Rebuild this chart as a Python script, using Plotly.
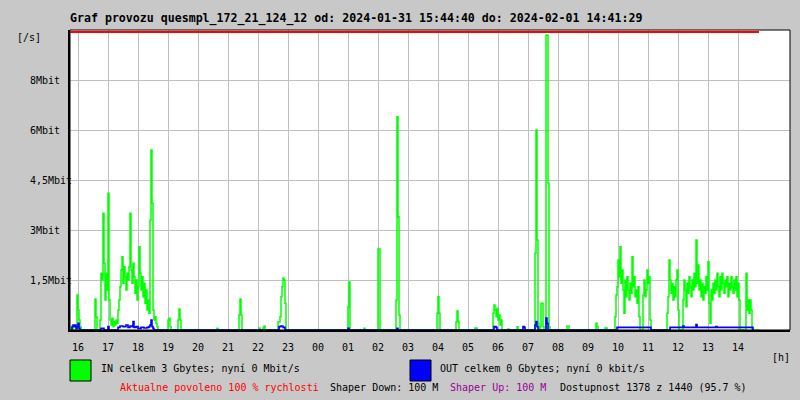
import plotly.graph_objects as go

# ---------------- data (minutes after 16:00, Mbit/s) ----------------
in_minutes = [
    -16, -12, -10, -4, -2, 0, 2, 4, 6,
    32, 34, 36, 38,
    42, 44, 46, 48, 50, 52, 54, 56, 58, 60, 62, 64, 66, 68, 70, 72, 74, 76, 78, 80,
    82, 84, 86, 88, 90, 92, 94, 96, 98, 100, 102, 104, 106, 108, 110, 112, 114, 116,
    118, 120, 122, 124, 126, 128, 130, 132, 134, 136, 138, 140, 142, 144, 146, 148,
    150, 152, 154, 156, 158, 160,
    178, 180, 182, 184, 186,
    198, 200, 202, 204, 206,
    276, 278, 280,
    320, 322, 324, 326, 328,
    360, 362, 364, 368, 370, 372, 374,
    398, 400, 402, 404, 406, 408, 410, 412, 414, 416,
    538, 540, 542, 544,
    570, 572, 574,
    598, 600, 602, 604,
    634, 636, 638, 640, 642, 644,
    716, 718, 720, 722, 724,
    754, 756, 758, 760, 762,
    792, 794, 796, 798,
    828, 830, 832, 834, 836, 838, 840, 842, 844, 846, 848,
    858, 860, 862,
    876, 878, 880,
    912, 914, 916, 918, 920, 922, 924, 926, 928, 930, 932, 934, 936, 938, 940, 942, 944,
    976, 978, 980, 982,
    1034, 1036, 1038, 1040,
    1052, 1054, 1056, 1058,
    1072, 1074, 1076, 1078, 1080, 1082, 1084, 1086, 1088, 1090, 1092, 1094, 1096, 1098,
    1100, 1102, 1104, 1106, 1108, 1110, 1112, 1114, 1116, 1118, 1120, 1122, 1124,
    1128, 1130, 1132, 1134, 1136, 1138, 1140, 1142, 1144, 1146,
    1176, 1178, 1180, 1182, 1184, 1186, 1188, 1190, 1192, 1194, 1196, 1198, 1200, 1202,
    1208, 1210, 1212, 1214, 1216, 1218, 1220, 1222, 1224, 1226, 1228, 1230, 1232, 1234,
    1236, 1238, 1240, 1242, 1244, 1246, 1248, 1250, 1252, 1254, 1256, 1258, 1260, 1262,
    1264, 1266, 1268, 1270, 1272, 1274, 1276, 1278, 1280, 1282, 1284, 1286, 1288, 1290,
    1292, 1294, 1296, 1298, 1300, 1302, 1304, 1306, 1308, 1310, 1312, 1314, 1316, 1318,
    1320, 1322, 1324,
    1334, 1336, 1338, 1340, 1342, 1344, 1346, 1348,
    1362,
]
in_mbit = [
    0.06, 0.06, 0, 0, 1.05, 0.6, 0.3, 0.1, 0,
    0, 0.93, 0.4, 0,
    0, 0.3, 1.7, 1.5, 3.5, 2.0, 0.9, 1.7, 1.2, 4.1, 0.9, 0.3, 0.15, 0.35, 0.1, 0.25, 0.15, 0.3, 0.2, 0.6,
    0.9, 1.3, 1.8, 2.2, 1.4, 1.9, 1.6, 1.2, 1.7, 1.5, 1.9, 3.5, 1.8, 1.4, 2.0, 1.6, 1.1, 1.5,
    0.9, 1.3, 2.5, 1.7, 1.2, 1.6, 1.0, 1.4, 0.8, 1.2, 0.6, 0.9, 0.5, 3.3, 5.4, 3.8,
    0.6, 0.3, 0.4, 0.2, 0.1, 0,
    0, 0.3, 0.35, 0.1, 0,
    0, 0.3, 0.63, 0.3, 0,
    0, 0.05, 0,
    0, 0.45, 0.93, 0.45, 0,
    0, 0.06, 0, 0, 0.06, 0.12, 0,
    0, 0.24, 0.24, 0.4, 1.0, 1.3, 1.56, 1.5, 0.8, 0,
    0, 0.7, 1.44, 0,
    0, 0.05, 0,
    0, 2.43, 2.43, 0,
    0, 0.9, 6.4, 3.4, 0.45, 0,
    0, 0.5, 1.0, 0.5, 0,
    0, 0.25, 0.57, 0.25, 0,
    0, 0.06, 0.06, 0,
    0, 0.5, 0.75, 0.6, 0.4, 0.65, 0.3, 0.45, 0.15, 0.3, 0,
    0, 0.03, 0,
    0, 0.1, 0,
    0, 2.3, 6.0, 2.7, 0.2, 0, 0.1, 0.8, 0.8, 0.1, 0, 0, 8.85, 8.85, 4.4, 0.1, 0,
    0, 0.12, 0.12, 0,
    0, 0.2, 0.1, 0,
    0, 0.06, 0.06, 0,
    0, 0.4, 1.05, 1.3, 2.1, 1.6, 2.5, 1.4, 1.8, 1.2, 0.5, 1.5, 1.0, 1.6,
    1.2, 0.9, 1.4, 1.1, 2.2, 1.3, 1.6, 1.0, 1.2, 0.8, 1.3, 0.4, 0,
    0, 1.05, 1.5, 1.0, 1.2, 1.8, 1.4, 1.6, 0.3, 0,
    0, 0.5, 1.0, 2.1, 1.5, 1.1, 1.4, 0.9, 1.3, 1.0, 1.5, 1.8, 0.6, 0,
    0, 0.9, 1.5, 1.2, 0.7, 1.4, 1.1, 1.6, 1.3, 1.0, 1.5, 1.2, 1.7, 1.3,
    2.7, 1.4, 1.95, 1.2, 1.5, 1.0, 1.4, 0.9, 1.3, 1.1, 1.6, 1.2, 2.05, 0.8,
    0.2, 1.2, 0.9, 1.4, 1.1, 1.5, 1.2, 1.7, 1.3, 1.0, 1.6, 1.2, 1.7, 1.4,
    1.1, 1.5, 1.3, 1.6, 1.0, 1.4, 1.2, 1.6, 1.3, 1.1, 1.5, 1.2, 1.6, 1.0,
    1.4, 0.9, 0,
    0, 1.7, 0.6, 0.9, 0.5, 0.9, 0.6, 0,
    0,
]

out_minutes = [
    -14, -12, -10, -8, -6, -4, -2, 0, 2, 4,
    44, 46, 50, 52,
    58, 60, 62,
    78, 80, 84, 90, 96, 100, 104, 108, 110, 112, 116, 120, 126, 132, 138, 142, 144, 146, 148, 150, 152,
    400, 402, 406, 410, 414,
    538, 540, 542,
    636, 638, 640,
    830, 832, 836, 838,
    888, 890, 892, 894,
    912, 914, 916, 918, 920,
    934, 936, 938, 940,
    1076, 1078, 1144, 1146,
    1182, 1184, 1210, 1212, 1236, 1238, 1276, 1278, 1348, 1350,
]
out_mbit = [
    0, 0.1, 0.15, 0.1, 0.15, 0.05, 0.1, 0.2, 0.05, 0,
    0, 0.05, 0.05, 0,
    0, 0.1, 0,
    0, 0.08, 0.12, 0.1, 0.15, 0.08, 0.12, 0.1, 0.25, 0.08, 0.1, 0.05, 0.08, 0.06, 0.08, 0.1, 0.15, 0.3, 0.1, 0.05, 0,
    0, 0.1, 0.12, 0.08, 0,
    0, 0.05, 0,
    0, 0.05, 0,
    0, 0.1, 0.08, 0,
    0, 0.1, 0.08, 0,
    0, 0.15, 0.25, 0.1, 0,
    0, 0.36, 0.2, 0,
    0, 0.08, 0.08, 0,
    0, 0.08, 0.12, 0.08, 0.16, 0.08, 0.1, 0.08, 0.08, 0,
]

hour_labels = ["16", "17", "18", "19", "20", "21", "22", "23", "00", "01", "02", "03",
               "04", "05", "06", "07", "08", "09", "10", "11", "12", "13", "14"]
y_tick_vals = [1.5, 3, 4.5, 6, 7.5]
y_tick_text = ["1,5Mbit", "3Mbit", "4,5Mbit", "6Mbit", "8Mbit"]

title_text = "Graf provozu quesmpl_172_21_124_12 od: 2024-01-31 15:44:40 do: 2024-02-01 14:41:29"
in_text = "IN celkem 3 Gbytes; nyní 0 Mbit/s"
out_text = "OUT celkem 0 Gbytes; nyní 0 kbit/s"

# ---------------- layout helpers ----------------
W, H = 800, 400
L, R, T, B = 70, 790, 30, 330
BG = "#c8c8c8"


def px(x):
    return (x - L) / (R - L)


def py(y):
    return (B - y) / (B - T)


FONT = "DejaVu Sans Mono"

fig = go.Figure()
fig.add_trace(go.Scatter(
    x=[m / 60 for m in in_minutes], y=in_mbit, mode="lines",
    line=dict(color="#00ff00", width=1.5, shape="hv"), hoverinfo="skip"))
fig.add_trace(go.Scatter(
    x=[m / 60 for m in out_minutes], y=out_mbit, mode="lines",
    line=dict(color="#0000ff", width=1.6, shape="hv"), hoverinfo="skip"))

annotations = []


def txt(x, y, s, color="black", size=10, bold=False, xanchor="left"):
    annotations.append(dict(
        x=px(x), y=py(y), xref="paper", yref="paper", text=("<b>%s</b>" % s) if bold else s,
        showarrow=False, xanchor=xanchor, yanchor="middle",
        font=dict(family=FONT, size=size, color=color)))


txt(68, 18.5, title_text, size=11.6, bold=True)
txt(15, 37.5, "[/s]")
for v, t in zip(y_tick_vals, y_tick_text):
    annotations.append(dict(x=px(28), y=v, xref="paper", yref="y", text=t, showarrow=False,
                            xanchor="left", yanchor="middle",
                            font=dict(family=FONT, size=10, color="black")))
for i, t in enumerate(hour_labels):
    annotations.append(dict(x=i, y=py(347), xref="x", yref="paper", text=t, showarrow=False,
                            xanchor="center", yanchor="middle",
                            font=dict(family=FONT, size=10, color="black")))
txt(770, 357, "[h]")
txt(99, 368, in_text)
txt(438, 368, out_text)
txt(118, 387.5, "Aktualne povoleno 100 % rychlosti", color="#ff0000")
txt(328, 387.5, "Shaper Down: 100 M")
txt(448, 387.5, "Shaper Up: 100 M", color="#990099")
txt(558, 387.5, "Dostupnost 1378 z 1440 (95.7 %)")

shapes = [
    dict(type="rect", xref="paper", yref="paper", x0=0, x1=1, y0=0, y1=1,
         line=dict(color="black", width=1), fillcolor="rgba(0,0,0,0)"),
    dict(type="line", xref="x", yref="paper", x0=in_minutes[0] / 60, x1=in_minutes[-1] / 60,
         y0=py(32), y1=py(32), line=dict(color="#ff0000", width=2)),
    dict(type="rect", xref="paper", yref="paper", x0=px(70), x1=px(91), y0=py(360), y1=py(381),
         line=dict(color="black", width=1), fillcolor="#00ff00"),
    dict(type="rect", xref="paper", yref="paper", x0=px(410), x1=px(431), y0=py(360), y1=py(381),
         line=dict(color="black", width=1), fillcolor="#0000ff"),
]

fig.update_layout(
    width=W, height=H,
    margin=dict(l=L, r=W - R, t=T, b=H - B, pad=0),
    paper_bgcolor=BG, plot_bgcolor="white",
    showlegend=False,
    annotations=annotations, shapes=shapes,
    xaxis=dict(range=[-16 / 60, 1424 / 60], tickvals=list(range(len(hour_labels))),
               showticklabels=False, ticks="", showgrid=True, gridcolor="#c0c0c0", gridwidth=1,
               zeroline=False, showline=True, linecolor="black", linewidth=2, fixedrange=True),
    yaxis=dict(range=[0, 9], tickvals=y_tick_vals, showticklabels=False, ticks="",
               showgrid=True, gridcolor="#c0c0c0", gridwidth=1,
               zeroline=False, showline=True, linecolor="black", linewidth=2, fixedrange=True),
)

fig.write_html(
    "out.html",
    config={"displayModeBar": False},
    post_script="document.body.style.margin='0';document.body.style.padding='0';"
                "document.body.style.overflow='hidden';document.body.style.background='" + BG + "';",
)
